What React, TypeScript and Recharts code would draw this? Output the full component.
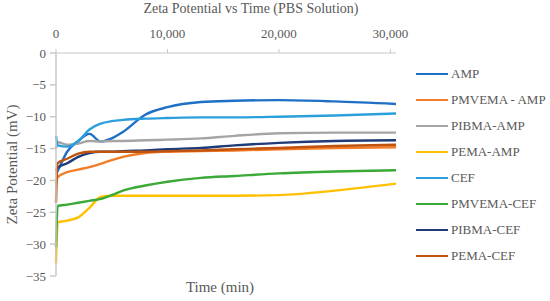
import { LineChart, Line, XAxis, YAxis } from "recharts";

const TIMES = [0, 150, 1000, 2000, 3000, 4000, 5000, 6000, 8000, 10000, 13000, 16000, 20000, 25000, 30500];

const AMP = [-19, -18.5, -15.5, -13.8, -12.7, -13.9, -13.4, -12.4, -9.7, -8.5, -7.7, -7.5, -7.4, -7.6, -8.0];
const PMVEMA_AMP = [-20.5, -19.5, -18.7, -18.3, -17.9, -17.4, -16.8, -16.3, -15.7, -15.5, -15.4, -15.3, -15.1, -14.9, -14.8];
const PIBMA_AMP = [-15, -14.0, -14.4, -14.2, -13.8, -13.9, -13.8, -13.8, -13.7, -13.6, -13.4, -13.0, -12.6, -12.5, -12.5];
const PEMA_AMP = [-33, -26.6, -26.3, -25.8, -24.3, -22.6, -22.4, -22.4, -22.4, -22.4, -22.4, -22.4, -22.3, -21.6, -20.5];
const CEF = [-13, -14.5, -14.7, -13.8, -12.0, -11.1, -10.7, -10.5, -10.3, -10.2, -10.1, -10.1, -10.0, -9.8, -9.5];
const PMVEMA_CEF = [-30.5, -24.0, -23.8, -23.5, -23.2, -22.9, -22.3, -21.6, -20.8, -20.2, -19.6, -19.3, -18.9, -18.6, -18.4];
const PIBMA_CEF = [-18.5, -18.0, -17.3, -16.3, -15.7, -15.5, -15.5, -15.4, -15.3, -15.1, -14.9, -14.5, -14.1, -13.8, -13.7];
const PEMA_CEF = [-23.5, -17.3, -16.6, -15.8, -15.5, -15.5, -15.5, -15.5, -15.5, -15.4, -15.3, -15.1, -14.9, -14.6, -14.4];

const X_TICKS = [0, 10000, 20000, 30000];
const Y_TICKS = [-35, -30, -25, -20, -15, -10, -5, 0];

const SERIES = [
  { name: "AMP", values: AMP, color: "#1f6fc6" },
  { name: "PMVEMA - AMP", values: PMVEMA_AMP, color: "#f47c26" },
  { name: "PIBMA-AMP", values: PIBMA_AMP, color: "#a5a5a5" },
  { name: "PEMA-AMP", values: PEMA_AMP, color: "#ffc000" },
  { name: "CEF", values: CEF, color: "#2b9fdc" },
  { name: "PMVEMA-CEF", values: PMVEMA_CEF, color: "#3aa935" },
  { name: "PIBMA-CEF", values: PIBMA_CEF, color: "#1f3c78" },
  { name: "PEMA-CEF", values: PEMA_CEF, color: "#c0530e" },
];

const FONT = "Liberation Serif, serif";
const TEXT = "#595959";

const data = TIMES.map((t, i) => {
  const row: Record<string, number> = { t };
  for (const s of SERIES) row[s.name] = s.values[i];
  return row;
});

export default function App() {
  return (
    <div style={{ position: "absolute", left: 0, top: 0, width: 550, height: 301, background: "#fff", fontFamily: FONT }}>
      <div
        style={{
          position: "absolute",
          left: 0,
          width: 502,
          top: 0,
          textAlign: "center",
          fontSize: 14,
          color: TEXT,
          lineHeight: "18px",
        }}
      >
        Zeta Potential vs Time (PBS Solution)
      </div>
      <div
        style={{
          position: "absolute",
          left: 120,
          width: 200,
          top: 278,
          textAlign: "center",
          fontSize: 15,
          color: TEXT,
          lineHeight: "18px",
        }}
      >
        Time (min)
      </div>
      <div style={{ position: "absolute", left: 416, top: 61, fontSize: 13, color: TEXT }}>
        {SERIES.map((s) => (
          <div key={s.name} style={{ display: "flex", alignItems: "center", height: 26 }}>
            <span style={{ width: 32, height: 2.5, background: s.color, marginRight: 3 }} />
            <span>{s.name}</span>
          </div>
        ))}
      </div>
      <LineChart width={550} height={301} data={data} margin={{ top: 23, right: 154, bottom: 25, left: 0 }}>
        <XAxis
          dataKey="t"
          type="number"
          orientation="top"
          domain={[0, 30500]}
          ticks={X_TICKS}
          height={30}
          tickFormatter={(v: number) => v.toLocaleString("en-US")}
          tick={{ fontSize: 13, fill: TEXT, style: { fontFamily: FONT } }}
          stroke="#c8c8c8"
          tickSize={4}
          tickMargin={11}
        />
        <YAxis
          type="number"
          domain={[-35, 0]}
          ticks={Y_TICKS}
          width={56}
          tickFormatter={(v: number) => String(v).replace("-", "\u2212")}
          tick={{ fontSize: 13, fill: TEXT, style: { fontFamily: FONT } }}
          stroke="#c8c8c8"
          strokeWidth={1.5}
          tickSize={6}
          tickMargin={4}
          label={{
            value: "Zeta Potential (mV)",
            angle: -90,
            position: "insideLeft",
            offset: 12,
            style: { textAnchor: "middle", fontSize: 15, fill: TEXT, fontFamily: FONT },
          }}
        />
        {SERIES.map((s) => (
          <Line
            key={s.name}
            type="monotone"
            dataKey={s.name}
            name={s.name}
            stroke={s.color}
            strokeWidth={2.4}
            dot={false}
            isAnimationActive={false}
          />
        ))}
      </LineChart>
    </div>
  );
}
